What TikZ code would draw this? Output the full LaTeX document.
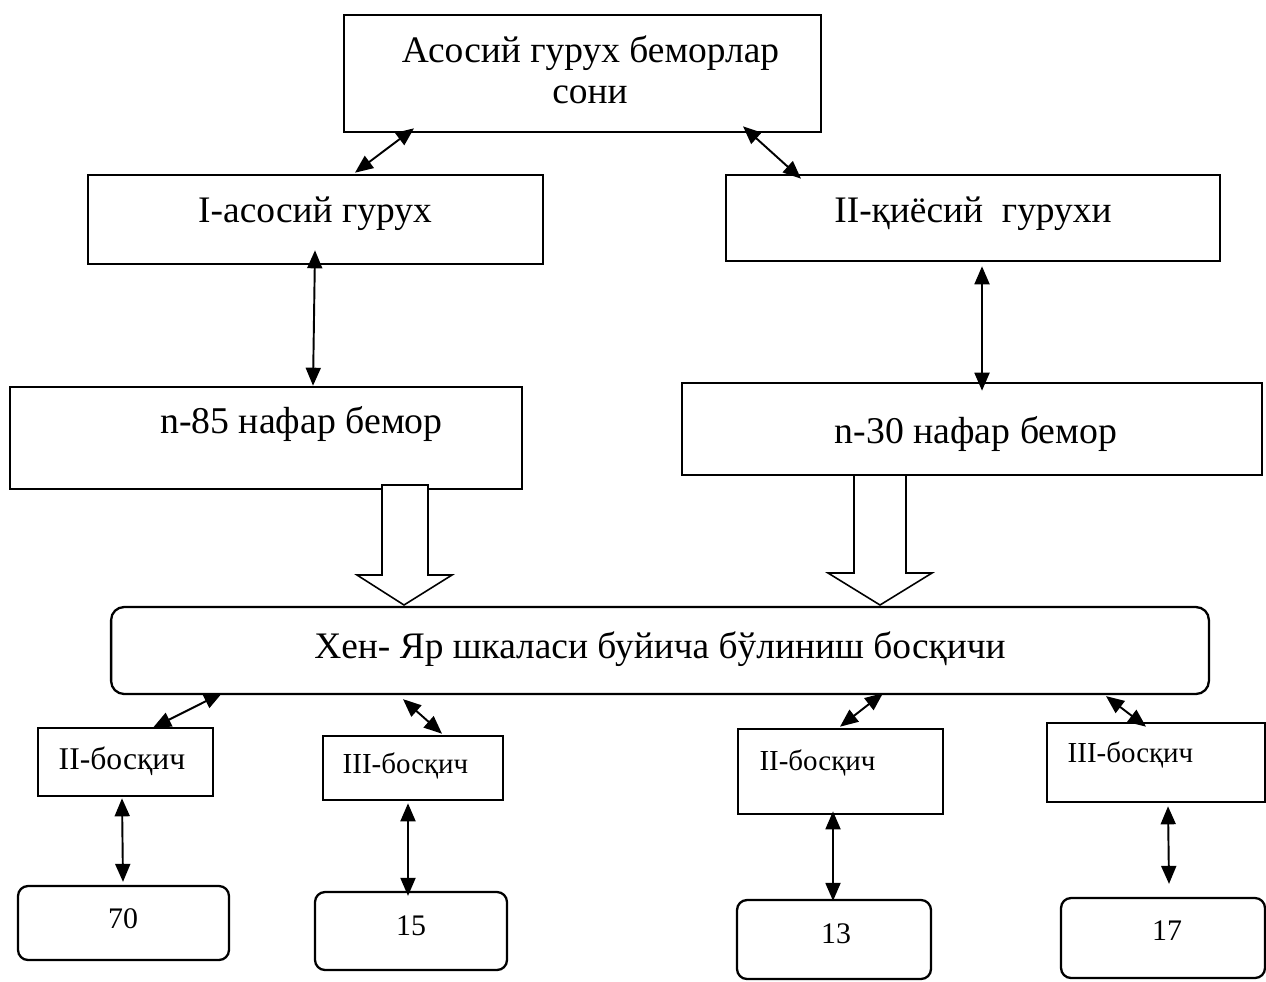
\documentclass[tikz,border=0pt]{standalone}
\usepackage{fontspec}
\setmainfont{Liberation Serif}
\usetikzlibrary{arrows.meta,calc}

\begin{document}
\begin{tikzpicture}[x=0.02cm, y=-0.02cm,
          box/.style={draw, line width=1.5pt, inner sep=0pt},
          rbox/.style={box, line width=1.3pt, rounded corners=0.2cm},
          link/.style={{Triangle[length=0.36cm,width=0.3cm]}-{Triangle[length=0.36cm,width=0.3cm]},
                       line width=1.1pt},
          fat/.style={draw, fill=white, line width=0.9pt},
          txt/.style={inner sep=0pt, anchor=base},
          big/.style={txt, font=\fontsize{21.3pt}{25pt}\selectfont},
          mid/.style={txt, font=\fontsize{21.5pt}{25pt}\selectfont},
          sml/.style={txt, font=\fontsize{16.5pt}{20pt}\selectfont},
          num/.style={txt, font=\fontsize{17pt}{20pt}\selectfont}]
        % page frame, 1 unit = 1 px of the 1266x981 sheet, y downwards
        \useasboundingbox (0,0) rectangle (1266,981);
        % Boxes
        \node[box, minimum width=9.54cm, minimum height=2.34cm] (TOP) at (582.5,73.5) {};
        \node[box, minimum width=9.1cm, minimum height=1.78cm] (G1) at (315.5,219.5) {};
        \node[box, minimum width=9.88cm, minimum height=1.72cm] (G2) at (973,218) {};
        \node[box, minimum width=10.24cm, minimum height=2.04cm] (P1) at (266,438) {};
        \node[box, minimum width=11.6cm, minimum height=1.84cm] (P2) at (972,429) {};
        \node[rbox, rounded corners=0.26cm, minimum width=21.96cm,
              minimum height=1.74cm] (HY) at (660,650.5) {};
        \node[box, minimum width=3.5cm, minimum height=1.36cm] (S1) at (125.5,762) {};
        \node[box, minimum width=3.6cm, minimum height=1.28cm] (S2) at (413,768) {};
        \node[box, minimum width=4.1cm, minimum height=1.7cm] (S3) at (840.5,771.5) {};
        \node[box, minimum width=4.36cm, minimum height=1.58cm] (S4) at (1156,762.5) {};
        \node[rbox, minimum width=4.22cm, minimum height=1.48cm] (N1) at (123.5,923) {};
        \node[rbox, minimum width=3.84cm, minimum height=1.56cm] (N2) at (411,931) {};
        \node[rbox, minimum width=3.88cm, minimum height=1.58cm] (N3) at (834,939.5) {};
        \node[rbox, minimum width=4.08cm, minimum height=1.6cm] (N4) at (1163,938) {};
        % Texts
        \node[big] (TOPa) at (590.5,62) {Асосий гурух беморлар};
        \node[big] (TOPb) at (590,103) {сони};
        \node[big] (G1t) at (315,222) {I-асосий гурух};
        \node[big] (G2t) at (973,222) {II-қиёсий\ \ гурухи};
        \node[mid] (P1t) at (301.5,433) {n-85 нафар бемор};
        \node[mid] (P2t) at (976,443) {n-30 нафар бемор};
        \node[big] (HYt) at (660,658) {Хен- Яр шкаласи буйича бўлиниш босқичи};
        \node[txt, font=\fontsize{18pt}{21pt}\selectfont] (S1t) at (122,769) {II-босқич};
        \node[sml] (S2t) at (405.5,773) {III-босқич};
        \node[sml] (S3t) at (817.5,770) {II-босқич};
        \node[sml] (S4t) at (1130.5,762) {III-босқич};
        \node[num] (N1t) at (123,928) {70};
        \node[num] (N2t) at (411,935) {15};
        \node[num] (N3t) at (836,943) {13};
        \node[num] (N4t) at (1167,940) {17};
        % Block arrows down to the scale box
        \draw[fat] (382,485) -- (382,575) -- (357,575) -- (404,605)
              -- (452,575) -- (428,575) -- (428,485) -- cycle;
        \draw[fat] (854,475) -- (854,573) -- (828,573) -- (880,605)
              -- (932,573) -- (906,573) -- (906,475) -- cycle;
        % Two-way links
        \draw[link] ($(TOP.south)+(-168.5,-5)$) -- ($(G1.north)+(39.5,-1)$);
        \draw[link] ($(TOP.south)+(160.5,-7)$) -- ($(G2.north)+(-172,5)$);
        \draw[link] ($(G1.south)+(-0.5,-15)$) -- ($(P1.north)+(47,0)$);
        \draw[link] ($(G2.south)+(9,4)$) -- ($(P2.north)+(10,9)$);
        \draw[link] ($(HY.south)+(-438,-2)$) -- ($(S1.north)+(27.5,1)$);
        \draw[link] ($(HY.south)+(-257,4)$) -- ($(S2.north)+(29,-1)$);
        \draw[link] ($(HY.south)+(223,-2)$) -- ($(S3.north)+(-0.5,-1)$);
        \draw[link] ($(HY.south)+(446,1)$) -- ($(S4.north)+(-10,5)$);
        \draw[link] ($(S1.south)+(-3.5,1)$) -- ($(N1.north)+(-0.5,-3)$);
        \draw[link] ($(S2.south)+(-5,2)$) -- ($(N2.north)+(-3,5)$);
        \draw[link] ($(S3.south)+(-7.5,-4)$) -- ($(N3.north)+(-1,2)$);
        \draw[link] ($(S4.south)+(12,3)$) -- ($(N4.north)+(6,-13)$);
      \end{tikzpicture}
\end{document}
